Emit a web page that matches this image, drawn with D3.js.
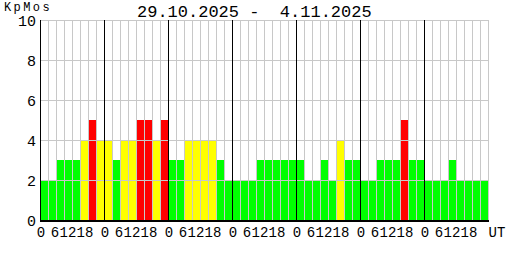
<!DOCTYPE html>
<html>
<head>
<meta charset="utf-8">
<script src="https://cdn.jsdelivr.net/npm/d3@7"></script>
<style>
html,body{margin:0;padding:0;background:#fff;}
svg{display:block;}
text{font-family:"Liberation Mono","DejaVu Sans Mono",monospace;fill:#000;}
</style>
</head>
<body>
<svg id="chart" width="508" height="260"></svg>
<script>
// ---- data ----
const days = ["29.10.2025","30.10.2025","31.10.2025","1.11.2025","2.11.2025","3.11.2025","4.11.2025"];
const hourLabels = ["0","6","12","18"];
const kpValues = [
  2,2,3,3,3,4,5,4,
  4,3,4,4,5,5,4,5,
  3,3,4,4,4,4,3,2,
  2,2,2,3,3,3,3,3,
  3,2,2,3,2,4,3,3,
  2,2,3,3,3,5,3,3,
  2,2,2,3,2,2,2,2
];
const yTicks = [0,2,4,6,8,10];
const yLabel = "KpMos";
const unitLabel = "UT";

(function () {
  // ---- layout ----
  const mL = 40, mR = 488, mT = 20, mB = 220;
  const svg = d3.select("#chart");

  const x = d3.scaleBand().domain(d3.range(kpValues.length)).range([mL, mR]).padding(0);
  const y = d3.scaleLinear().domain([0, 10]).range([mB, mT]);
  const barsPerDay = kpValues.length / days.length;

  const color = v => v >= 5 ? "#ff0000" : (v >= 4 ? "#ffff00" : "#00ff00");

  // bars
  svg.append("g").attr("shape-rendering", "crispEdges")
    .selectAll("rect").data(kpValues).join("rect")
    .attr("x", (d, i) => x(i))
    .attr("width", x.bandwidth())
    .attr("y", d => y(d))
    .attr("height", d => y(0) - y(d))
    .attr("fill", d => color(d));

  // grid (drawn over bars)
  const grid = svg.append("g").attr("shape-rendering", "crispEdges");
  grid.selectAll("line.v").data(d3.range(1, kpValues.length + 1)).join("line")
    .attr("x1", i => (i < kpValues.length ? x(i) : mR) + 0.5)
    .attr("x2", i => (i < kpValues.length ? x(i) : mR) + 0.5)
    .attr("y1", mT).attr("y2", mB)
    .attr("stroke", "#c8c8c8");
  grid.selectAll("line.h").data(yTicks.filter(t => t > 0)).join("line")
    .attr("x1", mL).attr("x2", mR + 1)
    .attr("y1", t => y(t) + 0.5).attr("y2", t => y(t) + 0.5)
    .attr("stroke", "#c8c8c8");
  // day separators
  grid.selectAll("line.d").data(d3.range(1, days.length)).join("line")
    .attr("x1", d => x(d * barsPerDay) + 0.5).attr("x2", d => x(d * barsPerDay) + 0.5)
    .attr("y1", mT).attr("y2", mB)
    .attr("stroke", "#000");

  // axes lines
  grid.append("line").attr("x1", mL + 0.5).attr("x2", mL + 0.5).attr("y1", mT).attr("y2", mB + 1).attr("stroke", "#000");
  grid.append("line").attr("x1", mL).attr("x2", mR + 1).attr("y1", mB + 1).attr("y2", mB + 1).attr("stroke", "#000").attr("stroke-width", 2);

  // y tick labels
  svg.append("g").selectAll("text").data(yTicks).join("text")
    .attr("x", mL - 4)
    .attr("y", t => y(t) + 6)
    .attr("text-anchor", "end")
    .style("font-size", "15px")
    .text(t => t);

  // x labels
  const labelOffsets = [1, 15, 28, 45];
  const xl = svg.append("g");
  days.forEach((day, d) => {
    const x0 = x(d * barsPerDay);
    hourLabels.forEach((h, k) => {
      xl.append("text")
        .attr("x", x0 + labelOffsets[k])
        .attr("y", 237)
        .attr("text-anchor", "middle")
        .style("font-size", "14px")
        .text(h);
    });
  });
  xl.append("text").attr("x", 497).attr("y", 237).attr("text-anchor", "middle")
    .style("font-size", "14px").text(unitLabel);

  // titles
  svg.append("text").attr("x", 4).attr("y", 11)
    .style("font-size", "12px").style("letter-spacing", "2.4px").text(yLabel);
  svg.append("text").attr("x", 137).attr("y", 17)
    .style("font-size", "17px").attr("xml:space", "preserve").style("white-space", "pre")
    .text(days[0] + " -  " + days[days.length - 1]);
})();
</script>
</body>
</html>
